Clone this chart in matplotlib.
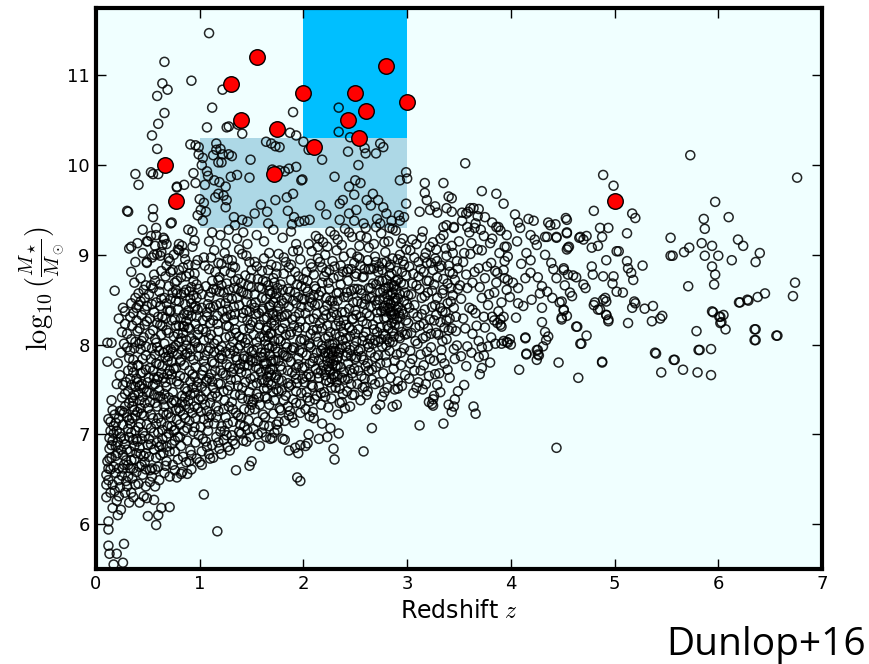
import numpy as np
import matplotlib
matplotlib.use("Agg")
import matplotlib.pyplot as plt
from matplotlib.patches import Rectangle

# photometric field sample (redshift, log stellar mass), grouped by redshift
field_z0 = [
    (0.11,8.02),(0.11,7.81),(0.20,7.56),(0.12,7.17),(0.14,7.14),(0.11,6.70),(0.10,6.55),(0.10,6.44),
    (0.10,6.30),(0.12,6.03),(0.12,5.94),(0.12,5.76),(0.13,5.67),(0.20,5.67),(0.27,5.78),(0.17,5.55),
    (0.26,5.57),(0.21,6.10),(0.32,6.24),(0.36,6.30),(0.34,6.35),(0.18,8.60),(0.15,8.02),
    (0.14,7.04),(0.16,6.93),(0.19,6.87),(0.13,6.84),(0.21,6.91),(0.23,7.01),(0.24,6.83),(0.26,6.77),
    (0.15,6.74),(0.17,6.64),(0.19,6.57),(0.14,6.61),(0.22,6.49),(0.16,6.44),(0.18,6.37),(0.23,6.41),
    (0.25,6.54),(0.27,6.66),(0.29,6.71),(0.12,6.49),(0.20,6.26),(0.22,6.62),(0.28,6.89),(0.31,7.06),
    (0.26,7.11),(0.18,7.22),(0.23,7.26),(0.28,7.31),(0.30,7.19),(0.25,7.41),(0.15,7.38),(0.17,7.09),
    (0.19,6.76),(0.13,6.96),(0.27,6.95),(0.31,6.53),(0.22,6.31),(0.24,6.16),(0.30,6.42),(0.33,6.62),
    (0.35,6.51),(0.37,6.72),(0.39,6.58),(0.41,6.45),(0.44,6.66),(0.46,6.31),(0.49,6.29),(0.45,6.55),
    (0.48,6.79),(0.42,6.85),(0.36,6.94),(0.33,6.81),(0.38,7.04),(0.43,7.12),(0.47,6.98),(0.40,7.25),
    (0.35,7.18),(0.32,7.35),(0.37,7.44),(0.42,7.38),(0.46,7.21),(0.49,7.47),(0.44,7.56),(0.39,7.62),
    (0.34,7.55),(0.31,7.71),(0.36,7.83),(0.41,7.77),(0.45,7.69),(0.48,7.88),(0.43,7.95),(0.38,8.03),
    (0.33,7.93),(0.30,8.12),(0.35,8.21),(0.40,8.15),(0.46,8.08),(0.49,8.26),(0.44,8.33),(0.39,8.41),
    (0.34,8.46),(0.28,8.37),(0.25,8.14),(0.22,8.29),(0.24,7.91),(0.29,7.58),(0.27,8.01),(0.21,7.79),
    (0.23,7.66),(0.32,9.07),(0.34,8.81),(0.37,8.69),(0.41,8.57),(0.47,8.52),(0.43,8.74),(0.49,8.91),
    (0.38,8.92),(0.45,9.02),(0.40,9.13),(0.34,9.09),(0.49,9.15),(0.30,9.49),(0.45,9.28),(0.41,9.78),
    (0.38,9.90),(0.47,8.39),(0.42,8.01),(0.31,9.48),(0.28,8.23),(0.26,8.41),
    (0.12,6.62),(0.15,6.88),(0.17,7.01),(0.19,7.13),(0.21,6.79),(0.22,7.18),(0.24,6.97),(0.26,6.62),
    (0.27,7.24),(0.29,6.48),(0.30,6.83),(0.32,6.97),(0.33,7.12),(0.34,6.71),(0.35,7.31),(0.36,6.62),
    (0.37,6.87),(0.38,7.21),(0.39,6.79),(0.40,6.92),(0.41,7.08),(0.42,6.64),(0.43,7.29),(0.44,6.95),
    (0.45,7.02),(0.46,6.76),(0.47,7.35),(0.48,6.61),(0.49,7.11),(0.50,6.88),(0.31,7.48),(0.33,7.62),
    (0.35,7.41),(0.36,7.69),(0.38,7.53),(0.40,7.77),(0.41,7.46),(0.43,7.68),(0.45,7.84),(0.46,7.51),
    (0.48,7.72),(0.50,7.58),(0.32,7.85),(0.34,8.06),(0.37,7.96),(0.39,8.27),(0.42,8.18),(0.44,8.04),
    (0.47,8.22),(0.49,8.43),(0.36,8.35),(0.41,8.44),(0.46,8.61),(0.30,7.97),(0.28,7.45),(0.26,7.55),
    (0.25,7.26),(0.20,7.04),(0.16,7.27),(0.13,6.73),(0.14,6.35),(0.16,6.18),(0.28,6.35),(0.38,6.44),
    (0.42,6.24),
]

field_z05 = [
    (0.66,11.15),(0.64,10.91),(0.69,10.84),(0.59,10.77),(0.66,10.58),(0.60,10.46),(0.54,10.33),
    (0.92,10.94),(0.91,10.23),(0.59,10.18),(0.53,9.92),(0.55,9.90),(0.60,9.90),(0.78,9.75),(0.85,9.78),
    (0.94,9.91),(0.96,9.80),(0.55,9.51),(0.55,9.42),(0.58,9.30),(0.73,9.36),(0.50,9.15),(0.80,9.12),
    (0.80,9.05),(0.89,9.28),(0.49,8.92),(0.56,9.00),(0.59,9.01),(0.65,9.19),(0.66,9.17),(0.96,10.22),
    (0.99,10.20),(0.78,9.76),(0.72,9.35),(0.53,9.21),(0.58,9.22),(0.57,9.10),(0.64,9.11),(0.68,9.12),
    (0.83,9.10),(0.85,9.02),(0.93,9.26),(0.95,9.16),(0.62,8.99),(0.75,9.00),(0.70,8.96),
    (0.52,6.47),(0.57,6.61),(0.61,6.49),(0.66,6.57),(0.71,6.53),(0.74,6.66),(0.78,6.52),(0.83,6.58),
    (0.87,6.69),(0.92,6.61),(0.97,6.73),(1.02,6.66),(0.63,6.18),(0.58,5.99),(0.71,6.19),(0.88,6.56),
    (0.51,6.75),(0.56,6.83),(0.59,6.91),(0.62,6.77),(0.64,6.95),(0.68,6.86),(0.70,7.01),(0.73,6.89),
    (0.76,6.81),(0.79,6.97),(0.82,6.87),(0.85,7.04),(0.88,6.93),(0.91,6.82),(0.94,7.03),(0.96,6.91),
    (0.99,6.99),(0.53,7.07),(0.55,7.18),(0.60,7.02),(0.63,7.13),(0.65,7.24),(0.69,7.09),(0.72,7.19),
    (0.75,7.04),(0.77,7.27),(0.81,7.11),(0.84,7.22),(0.86,7.33),(0.90,7.15),(0.93,7.24),(0.95,7.08),
    (0.98,7.29),(0.52,7.36),(0.56,7.44),(0.59,7.31),(0.61,7.49),(0.65,7.39),(0.68,7.53),(0.70,7.41),
    (0.74,7.47),(0.77,7.36),(0.80,7.56),(0.83,7.43),(0.86,7.51),(0.89,7.37),(0.91,7.59),(0.95,7.46),
    (0.97,7.53),(0.51,7.63),(0.55,7.71),(0.58,7.79),(0.60,7.64),(0.64,7.76),(0.67,7.86),(0.69,7.67),
    (0.73,7.81),(0.75,7.73),(0.79,7.89),(0.81,7.65),(0.85,7.77),(0.88,7.91),(0.90,7.71),(0.94,7.83),
    (0.96,7.75),(0.99,7.87),(0.54,7.96),(0.57,8.06),(0.59,7.97),(0.63,8.11),(0.66,8.01),(0.68,8.16),
    (0.72,7.95),(0.75,8.09),(0.77,8.21),(0.80,8.03),(0.84,8.13),(0.87,7.99),(0.89,8.19),(0.92,8.07),
    (0.96,8.23),(0.98,8.11),(0.52,8.29),(0.56,8.36),(0.59,8.24),(0.62,8.43),(0.64,8.31),(0.68,8.46),
    (0.71,8.37),(0.73,8.27),(0.77,8.49),(0.79,8.39),(0.82,8.29),(0.86,8.45),(0.88,8.33),(0.91,8.51),
    (0.95,8.41),(0.97,8.31),(0.51,8.56),(0.55,8.63),(0.57,8.71),(0.61,8.59),(0.63,8.51),(0.67,8.76),
    (0.70,8.65),(0.72,8.81),(0.76,8.69),(0.78,8.57),(0.82,8.75),(0.84,8.86),(0.87,8.61),(0.90,8.79),
    (0.94,8.71),(0.96,8.89),(0.99,8.62),(0.54,8.97),(0.63,9.03),(0.71,8.93),(0.79,9.06),(0.86,8.95),
    (0.93,9.09),(0.98,8.94),(0.54,6.53),(0.60,6.64),(0.68,6.70),(0.76,6.60),(0.84,6.75),(0.92,6.77),
    (0.82,6.56),(0.90,6.70),(0.48,6.42),(0.56,6.27),(0.60,6.10),(0.50,6.09),
    (0.51,6.95),(0.53,7.22),(0.54,6.62),(0.55,7.55),(0.56,7.02),(0.57,7.35),(0.58,6.74),(0.59,7.61),
    (0.60,7.18),(0.61,6.86),(0.62,7.42),(0.63,7.68),(0.64,7.05),(0.65,6.79),(0.66,7.31),(0.67,7.58),
    (0.68,6.97),(0.69,7.82),(0.70,7.24),(0.71,6.81),(0.72,7.61),(0.73,7.09),(0.74,7.92),(0.75,7.38),
    (0.76,6.93),(0.77,7.74),(0.78,7.16),(0.79,8.12),(0.80,7.29),(0.81,6.97),(0.82,7.83),(0.83,7.36),
    (0.84,8.21),(0.85,7.63),(0.86,7.18),(0.87,8.05),(0.88,7.48),(0.89,8.38),(0.90,7.29),(0.91,7.95),
    (0.92,8.32),(0.93,7.67),(0.94,8.55),(0.95,7.31),(0.96,8.02),(0.97,8.67),(0.98,7.58),(0.99,8.17),
    (0.52,8.12),(0.54,8.45),(0.56,8.78),(0.58,8.02),(0.60,8.31),(0.62,8.67),(0.64,8.21),(0.66,8.52),
    (0.68,8.88),(0.70,8.13),(0.72,8.51),(0.74,8.83),(0.76,8.28),(0.78,8.71),(0.80,8.48),(0.82,8.07),
    (0.85,8.58),(0.87,8.26),(0.89,8.89),(0.92,8.64),(0.95,8.79),(0.98,8.39),(0.53,7.84),(0.57,7.56),
    (0.61,7.93),(0.65,7.63),(0.69,7.94),(0.73,7.67),(0.77,7.99),(0.81,7.81),(0.86,7.89),(0.91,7.44),
    (0.95,7.64),(0.99,7.39),(0.67,6.65),(0.79,6.72),(0.57,6.42),(0.52,6.60),
]

field_z1 = [
    (1.04,6.33),(1.17,5.92),(1.35,6.60),(1.10,6.73),(1.13,6.74),(1.00,6.69),(1.21,6.78),(1.29,6.82),
    (1.02,6.81),(1.06,6.92),(1.09,6.78),(1.12,6.88),(1.16,6.97),(1.19,6.84),(1.23,6.94),(1.27,6.86),
    (1.31,6.99),(1.34,6.89),(1.38,7.03),(1.42,6.93),(1.46,7.05),(1.49,6.97),(1.01,7.08),(1.04,7.17),
    (1.08,7.04),(1.11,7.22),(1.14,7.12),(1.18,7.26),(1.21,7.09),(1.25,7.19),(1.28,7.31),(1.32,7.14),
    (1.35,7.24),(1.39,7.11),(1.43,7.28),(1.47,7.16),(1.50,7.33),(1.03,7.39),(1.06,7.48),(1.10,7.35),
    (1.13,7.52),(1.17,7.42),(1.20,7.56),(1.24,7.38),(1.27,7.49),(1.30,7.61),(1.34,7.44),(1.37,7.54),
    (1.41,7.40),(1.44,7.58),(1.48,7.47),(1.02,7.66),(1.05,7.75),(1.09,7.63),(1.12,7.81),(1.15,7.71),
    (1.19,7.85),(1.22,7.68),(1.26,7.78),(1.29,7.90),(1.33,7.73),(1.36,7.83),(1.40,7.69),(1.43,7.87),
    (1.47,7.77),(1.50,7.92),(1.01,7.96),(1.04,8.05),(1.08,7.93),(1.11,8.11),(1.14,8.01),(1.18,8.15),
    (1.21,7.98),(1.25,8.08),(1.28,8.20),(1.32,8.03),(1.35,8.13),(1.39,7.99),(1.42,8.17),(1.46,8.06),
    (1.49,8.22),(1.03,8.27),(1.07,8.36),(1.10,8.24),(1.13,8.42),(1.17,8.32),(1.20,8.46),(1.24,8.29),
    (1.27,8.39),(1.31,8.51),(1.34,8.34),(1.38,8.44),(1.41,8.30),(1.45,8.48),(1.48,8.37),(1.02,8.56),
    (1.06,8.65),(1.09,8.53),(1.12,8.71),(1.16,8.61),(1.19,8.75),(1.23,8.58),(1.26,8.68),(1.30,8.80),
    (1.33,8.63),(1.37,8.73),(1.40,8.59),(1.44,8.77),(1.47,8.66),(1.50,8.83),(1.05,8.88),(1.11,8.97),
    (1.18,8.91),(1.24,9.02),(1.31,8.94),(1.38,9.06),(1.45,8.99),
    (1.01,7.25),(1.02,7.53),(1.03,6.95),(1.04,7.82),(1.05,7.33),(1.06,8.14),(1.07,7.61),(1.08,8.45),
    (1.09,7.19),(1.10,7.96),(1.11,8.58),(1.12,7.42),(1.13,8.27),(1.14,7.79),(1.15,8.81),(1.16,7.31),
    (1.17,8.05),(1.18,7.57),(1.19,8.59),(1.20,7.03),(1.21,7.88),(1.22,8.37),(1.23,7.48),(1.24,8.82),
    (1.25,7.66),(1.26,8.21),(1.27,7.12),(1.28,8.61),(1.29,7.75),(1.30,8.33),(1.31,7.36),(1.32,8.87),
    (1.33,7.93),(1.34,8.17),(1.35,7.61),(1.36,8.52),(1.37,7.21),(1.38,8.09),(1.39,7.78),(1.40,8.69),
    (1.41,7.52),(1.42,8.35),(1.43,7.09),(1.44,8.02),(1.45,7.68),(1.46,8.56),(1.47,7.39),(1.48,8.18),
    (1.49,7.83),(1.50,8.64),(1.04,8.97),(1.09,8.84),(1.14,9.05),(1.21,8.90),(1.27,8.95),(1.34,8.86),
    (1.41,9.01),(1.48,8.92),(1.03,7.71),(1.07,8.31),(1.12,7.59),(1.16,8.44),(1.20,7.71),(1.25,8.46),
    (1.29,7.54),(1.33,8.42),(1.37,7.96),(1.42,7.84),(1.46,8.27),(1.49,7.62),(1.18,6.91),(1.26,6.99),
    (1.32,6.93),(1.40,7.01),(1.45,6.92),(1.07,6.86),
    (0.99,10.12),(1.03,10.08),(1.02,10.00),(1.07,9.93),(1.08,9.88),(1.05,9.78),(1.13,10.11),(1.16,10.17),
    (1.20,10.18),(1.22,10.12),(1.18,10.03),(1.21,10.03),(1.28,10.12),(1.31,10.10),(1.49,10.06),(1.30,9.87),
    (1.36,9.89),(1.48,9.86),(1.14,9.83),(1.19,9.81),(1.25,9.76),(1.15,9.64),(1.18,9.68),(1.23,9.66),
    (1.26,9.61),(1.25,9.53),(1.00,9.62),(1.04,9.58),(1.01,9.50),(0.98,9.44),(1.06,9.48),(1.03,9.38),
    (1.33,9.42),(1.34,9.33),(1.41,9.39),(1.46,9.37),(1.53,9.46),(1.12,9.25),(1.20,9.22),(1.28,9.28),
    (1.36,9.18),(1.42,9.25),(1.09,9.15),(1.25,9.12),(1.46,9.12),(1.16,10.24),(1.41,10.35),(1.37,10.45),
    (1.28,10.43),(1.07,10.42),(1.26,10.42),(1.12,10.64),(1.22,10.84),(1.09,11.47),(1.90,10.59),
]

field_z15 = [
    (1.58,6.87),(1.68,6.95),(1.70,6.96),(1.80,6.95),(1.82,6.94),(1.94,6.52),(1.97,6.48),(1.86,6.82),
    (1.92,6.85),(1.95,6.79),(1.97,6.88),(1.48,6.65),(1.50,6.70),(1.56,7.00),(1.75,7.05),(1.62,7.10),
    (1.52,7.06),(1.56,7.14),(1.60,7.02),(1.63,7.19),(1.67,7.09),(1.71,7.23),(1.74,7.11),(1.78,7.27),
    (1.82,7.15),(1.85,7.31),(1.89,7.19),(1.93,7.35),(1.97,7.24),(1.51,7.36),(1.55,7.45),(1.58,7.33),
    (1.62,7.51),(1.65,7.40),(1.69,7.55),(1.72,7.38),(1.76,7.48),(1.79,7.60),(1.83,7.43),(1.86,7.53),
    (1.90,7.39),(1.94,7.57),(1.98,7.46),(1.53,7.64),(1.57,7.73),(1.60,7.61),(1.64,7.79),(1.67,7.69),
    (1.71,7.83),(1.74,7.66),(1.78,7.76),(1.81,7.88),(1.85,7.71),(1.88,7.81),(1.92,7.67),(1.95,7.85),
    (1.99,7.74),(1.52,7.94),(1.55,8.03),(1.59,7.91),(1.62,8.09),(1.66,7.99),(1.69,8.13),(1.73,7.96),
    (1.76,8.06),(1.80,8.18),(1.83,8.01),(1.87,8.11),(1.90,7.97),(1.94,8.15),(1.97,8.04),(1.51,8.25),
    (1.54,8.34),(1.58,8.22),(1.61,8.40),(1.65,8.30),(1.68,8.44),(1.72,8.27),(1.75,8.37),(1.79,8.49),
    (1.82,8.32),(1.86,8.42),(1.89,8.28),(1.93,8.46),(1.96,8.35),(1.99,8.51),(1.53,8.56),(1.57,8.64),
    (1.60,8.52),(1.64,8.70),(1.67,8.60),(1.71,8.74),(1.74,8.57),(1.78,8.67),(1.81,8.79),(1.85,8.62),
    (1.88,8.72),(1.92,8.58),(1.95,8.76),(1.98,8.65),(1.55,8.87),(1.62,8.96),(1.69,8.89),(1.76,9.01),
    (1.83,8.92),(1.90,9.04),(1.97,8.95),(1.63,7.42),(1.66,7.58),(1.70,7.72),(1.68,7.88),(1.72,8.04),
    (1.65,8.19),(1.70,8.35),(1.73,8.52),(1.61,7.86),(1.74,7.50),
    (1.51,7.55),(1.52,8.11),(1.53,7.28),(1.54,8.47),(1.55,7.82),(1.56,8.73),(1.57,7.41),(1.58,8.08),
    (1.59,7.69),(1.60,8.63),(1.61,7.22),(1.62,8.28),(1.63,7.91),(1.64,8.51),(1.65,7.64),(1.66,8.83),
    (1.67,7.33),(1.68,8.12),(1.69,7.81),(1.70,8.58),(1.71,7.47),(1.72,8.21),(1.73,7.63),(1.74,8.79),
    (1.75,7.92),(1.76,8.43),(1.77,7.29),(1.78,8.04),(1.79,7.72),(1.80,8.61),(1.81,7.38),(1.82,8.24),
    (1.83,7.87),(1.84,8.52),(1.85,7.57),(1.86,8.86),(1.87,7.26),(1.88,8.14),(1.89,7.69),(1.90,8.49),
    (1.91,7.96),(1.92,8.31),(1.93,7.48),(1.94,8.67),(1.95,7.78),(1.96,8.19),(1.97,7.34),(1.98,8.42),
    (1.99,7.91),(2.00,8.73),(1.53,8.92),(1.60,8.82),(1.67,9.02),(1.74,8.87),(1.81,8.97),(1.88,8.89),
    (1.95,9.05),(1.64,7.72),(1.67,7.96),(1.69,8.24),(1.71,8.47),(1.66,8.66),(1.62,7.58),(1.76,7.82),
    (1.79,8.31),(1.84,7.97),(1.93,7.62),(1.98,8.06),(1.57,8.35),(1.54,7.75),(1.86,7.21),(1.91,7.13),
    (1.76,7.14),(1.64,6.97),(1.72,7.02),
    (1.55,9.22),(1.62,9.15),(1.66,9.35),(1.71,9.28),(1.80,9.19),(1.88,9.26),(1.93,9.12),(1.73,9.61),
    (1.84,9.64),(1.90,9.68),(1.85,9.49),(1.91,9.42),(1.89,9.34),(1.96,9.37),(1.65,9.48),(1.59,9.56),
    (1.70,9.95),(1.71,9.89),(1.77,9.94),(1.82,9.93),(1.86,9.96),(1.93,9.98),(1.64,10.26),(1.73,10.21),
    (1.87,10.36),(1.93,10.33),(2.00,10.26),(1.69,10.24),(1.77,10.20),(1.98,9.83),(2.01,9.38),
]

field_z2 = [
    (2.02,6.87),(2.04,6.90),(2.05,7.00),(2.06,7.20),(2.15,6.95),(2.23,6.97),(2.26,7.07),(2.34,7.01),
    (2.29,6.84),(2.30,6.72),(2.33,7.22),(2.40,7.29),(2.45,7.31),(2.18,7.12),(2.10,7.18),
    (2.02,7.28),(2.06,7.37),(2.09,7.25),(2.13,7.43),(2.17,7.33),(2.20,7.47),(2.24,7.30),(2.27,7.40),
    (2.31,7.52),(2.35,7.35),(2.38,7.45),(2.42,7.48),(2.46,7.56),(2.49,7.44),(2.01,7.58),(2.05,7.67),
    (2.08,7.55),(2.12,7.73),(2.15,7.63),(2.19,7.77),(2.22,7.60),(2.26,7.70),(2.29,7.82),(2.33,7.65),
    (2.36,7.75),(2.40,7.61),(2.43,7.79),(2.47,7.68),(2.50,7.84),(2.03,7.88),(2.07,7.97),(2.10,7.85),
    (2.14,8.03),(2.17,7.93),(2.21,8.07),(2.24,7.90),(2.28,8.00),(2.31,8.12),(2.35,7.95),(2.38,8.05),
    (2.42,7.91),(2.45,8.09),(2.49,7.98),(2.02,8.19),(2.06,8.28),(2.09,8.16),(2.13,8.34),(2.16,8.24),
    (2.20,8.38),(2.23,8.21),(2.27,8.31),(2.30,8.43),(2.34,8.26),(2.37,8.36),(2.41,8.22),(2.44,8.40),
    (2.48,8.29),(2.01,8.50),(2.04,8.59),(2.08,8.47),(2.11,8.65),(2.15,8.55),(2.18,8.69),(2.22,8.52),
    (2.25,8.62),(2.29,8.74),(2.32,8.57),(2.36,8.67),(2.39,8.53),(2.43,8.71),(2.46,8.60),(2.50,8.76),
    (2.03,8.81),(2.07,8.90),(2.10,8.78),(2.14,8.96),(2.18,8.86),(2.21,9.00),(2.25,8.83),(2.28,8.93),
    (2.32,9.05),(2.36,8.88),(2.39,8.98),(2.43,8.84),(2.46,9.02),(2.49,8.91),(2.05,9.12),(2.12,9.21),
    (2.19,9.14),(2.26,9.26),(2.33,9.17),(2.40,9.29),(2.47,9.20),(2.22,7.72),(2.26,7.85),(2.30,7.64),
    (2.34,7.91),(2.28,7.78),(2.32,7.58),
    (2.01,7.75),(2.02,8.35),(2.03,7.47),(2.04,8.71),(2.05,7.99),(2.06,8.52),(2.07,7.64),(2.08,8.86),
    (2.09,7.81),(2.10,8.29),(2.11,7.39),(2.12,8.62),(2.13,7.91),(2.14,8.45),(2.15,7.53),(2.16,8.92),
    (2.17,7.71),(2.18,8.18),(2.19,7.95),(2.20,8.76),(2.21,7.42),(2.22,8.33),(2.23,7.82),(2.24,8.69),
    (2.25,7.58),(2.26,8.14),(2.27,7.93),(2.28,8.48),(2.29,7.67),(2.30,8.87),(2.31,7.76),(2.32,8.33),
    (2.33,7.86),(2.34,8.58),(2.35,7.51),(2.36,8.21),(2.37,7.97),(2.38,8.81),(2.39,7.69),(2.40,8.36),
    (2.41,7.87),(2.42,8.58),(2.43,7.62),(2.44,8.19),(2.45,7.94),(2.46,8.84),(2.47,7.44),(2.48,8.47),
    (2.49,7.73),(2.50,8.12),(2.08,9.04),(2.15,9.18),(2.23,9.09),(2.30,9.22),(2.37,9.11),(2.44,9.25),
    (2.04,7.41),(2.17,7.46),(2.27,7.52),(2.37,7.36),(2.21,7.91),(2.25,7.72),(2.29,7.96),(2.33,7.77),
    (2.31,8.21),(2.24,8.09),(2.12,8.09),(2.41,8.07),(2.47,8.28),(2.06,8.01),
    (2.06,9.39),(1.99,9.84),(2.14,9.09),(2.16,9.55),(2.22,9.45),(2.35,9.57),(2.38,9.61),(2.35,9.39),
    (2.44,9.46),(2.49,9.38),(2.30,9.87),(2.44,9.76),(2.49,9.67),(2.34,10.64),(2.34,10.37),(2.45,10.31),
    (2.43,10.15),(2.18,10.06),(2.50,9.83),(2.05,10.17),
]

field_z25 = [
    (2.58,6.81),(2.66,7.07),(2.70,7.28),(2.74,7.33),(2.76,7.42),(2.78,7.47),(2.86,7.31),(2.90,7.33),
    (2.88,7.50),(2.91,7.51),(2.62,7.48),(2.55,7.38),
    (2.52,7.56),(2.56,7.65),(2.59,7.53),(2.63,7.71),(2.66,7.61),(2.70,7.75),(2.73,7.58),(2.77,7.68),
    (2.80,7.80),(2.84,7.63),(2.87,7.73),(2.91,7.59),(2.94,7.77),(2.98,7.66),(2.51,7.86),(2.55,7.95),
    (2.58,7.83),(2.62,8.01),(2.65,7.91),(2.69,8.05),(2.72,7.88),(2.76,7.98),(2.79,8.10),(2.83,7.93),
    (2.86,8.03),(2.90,7.89),(2.93,8.07),(2.97,7.96),(3.00,8.12),(2.53,8.17),(2.57,8.26),(2.60,8.14),
    (2.64,8.32),(2.67,8.22),(2.71,8.36),(2.74,8.19),(2.78,8.29),(2.81,8.41),(2.85,8.24),(2.88,8.34),
    (2.92,8.20),(2.95,8.38),(2.99,8.27),(2.52,8.48),(2.56,8.57),(2.59,8.45),(2.63,8.63),(2.66,8.53),
    (2.70,8.67),(2.73,8.50),(2.77,8.60),(2.80,8.72),(2.84,8.55),(2.87,8.65),(2.91,8.51),(2.94,8.69),
    (2.98,8.58),(2.51,8.79),(2.55,8.88),(2.58,8.76),(2.62,8.94),(2.65,8.84),(2.69,8.98),(2.72,8.81),
    (2.76,8.91),(2.79,9.03),(2.83,8.86),(2.86,8.96),(2.90,8.82),(2.93,9.00),(2.97,8.89),(2.54,9.10),
    (2.61,9.19),(2.68,9.12),(2.75,9.24),(2.82,9.15),(2.89,9.27),(2.96,9.18),(2.58,9.35),(2.71,9.40),
    (2.85,9.38),(2.92,9.44),(2.80,8.30),(2.84,8.45),(2.88,8.52),(2.82,8.18),(2.90,8.39),(2.86,8.58),
    (2.51,8.04),(2.52,8.62),(2.53,7.71),(2.54,8.96),(2.55,8.31),(2.56,7.87),(2.57,8.75),(2.58,8.09),
    (2.59,7.62),(2.60,8.51),(2.61,8.23),(2.62,7.79),(2.63,8.84),(2.64,8.06),(2.65,8.42),(2.66,7.72),
    (2.67,8.68),(2.68,8.17),(2.69,7.86),(2.70,8.92),(2.71,8.44),(2.72,8.03),(2.73,8.71),(2.74,7.79),
    (2.75,8.37),(2.76,8.83),(2.77,8.12),(2.78,8.53),(2.79,7.88),(2.80,8.92),(2.81,8.21),(2.82,8.64),
    (2.83,8.03),(2.84,8.37),(2.85,8.79),(2.86,8.15),(2.87,8.47),(2.88,7.82),(2.89,8.71),(2.90,8.28),
    (2.91,8.95),(2.92,8.09),(2.93,8.56),(2.94,7.91),(2.95,8.81),(2.96,8.34),(2.97,8.67),(2.98,8.11),
    (2.99,9.06),(3.00,8.45),(2.55,9.21),(2.63,9.08),(2.70,9.31),(2.78,9.14),(2.86,9.29),(2.94,9.13),
    (2.83,8.41),(2.87,8.29),(2.81,8.56),(2.89,8.61),(2.91,8.42),(2.79,8.37),(2.74,8.58),(2.85,8.67),
    (2.61,7.44),(2.69,7.56),(2.81,7.52),(2.95,7.54),(2.57,7.52),
    (2.53,10.00),(2.55,9.80),(2.59,10.19),(2.60,10.13),(2.70,10.13),(2.74,10.24),(2.77,10.20),
    (2.51,9.50),(2.61,9.61),(2.67,9.68),(2.72,9.61),(2.77,9.53),(2.80,9.46),(2.74,9.35),(2.83,9.30),
    (2.93,9.83),(2.99,9.92),(3.00,9.85),(2.99,9.57),(2.97,9.42),(2.93,9.38),(2.60,9.30),(2.65,9.55),
]

field_z3 = [
    (3.06,7.46),(3.12,7.10),(3.21,7.36),(3.25,7.39),(3.26,7.43),(3.24,7.34),(3.25,7.32),(3.32,7.47),
    (3.35,7.12),(3.40,7.33),(3.45,7.31),(3.43,7.25),(3.46,7.39),(3.49,7.48),(3.64,7.31),(3.66,7.23),
    (3.70,7.67),(3.72,7.74),(3.80,7.80),(3.78,7.98),(3.72,7.97),(3.69,7.86),(3.90,8.22),(3.93,8.04),
    (3.97,8.02),(3.99,8.06),(3.88,8.37),(3.55,7.55),(3.15,7.50),
    (3.02,7.62),(3.07,7.71),(3.11,7.58),(3.16,7.77),(3.21,7.65),(3.26,7.82),(3.31,7.68),(3.36,7.79),
    (3.41,7.63),(3.46,7.84),(3.03,7.93),(3.08,8.04),(3.13,7.89),(3.18,8.09),(3.23,7.97),(3.28,8.13),
    (3.33,7.94),(3.38,8.06),(3.43,8.18),(3.48,7.99),(3.01,8.24),(3.06,8.35),(3.12,8.21),(3.17,8.39),
    (3.22,8.28),(3.27,8.44),(3.32,8.25),(3.37,8.36),(3.42,8.48),(3.47,8.31),(3.04,8.56),(3.09,8.66),
    (3.14,8.52),(3.19,8.71),(3.24,8.60),(3.29,8.75),(3.34,8.57),(3.39,8.68),(3.44,8.79),(3.49,8.62),
    (3.02,8.87),(3.07,8.97),(3.13,8.84),(3.18,9.02),(3.23,8.91),(3.28,9.06),(3.33,8.88),(3.38,8.99),
    (3.43,9.10),(3.48,8.93),(3.05,9.17),(3.15,9.26),(3.25,9.14),(3.35,9.22),(3.45,9.30),
    (3.01,8.55),(3.03,9.05),(3.04,8.13),(3.06,8.79),(3.07,8.44),(3.09,9.12),(3.10,8.31),(3.11,8.92),
    (3.12,8.62),(3.14,9.19),(3.15,8.07),(3.16,8.81),(3.17,8.54),(3.19,8.91),(3.20,8.18),(3.21,8.71),
    (3.22,9.09),(3.24,8.42),(3.25,8.83),(3.26,8.27),(3.27,8.96),(3.29,8.52),(3.30,8.11),(3.31,8.86),
    (3.32,9.18),(3.34,8.37),(3.35,8.73),(3.36,8.19),(3.37,9.07),(3.39,8.46),(3.40,8.88),(3.41,8.29),
    (3.42,8.63),(3.44,9.02),(3.45,8.41),(3.46,8.72),(3.47,8.15),(3.49,8.85),(3.05,7.84),(3.13,7.71),
    (3.19,7.92),(3.27,7.67),(3.33,7.85),(3.39,7.72),(3.45,7.95),(3.09,7.52),(3.18,7.56),(3.29,7.55),
    (3.52,7.87),(3.58,7.98),(3.63,8.12),(3.69,8.04),(3.75,8.19),(3.81,8.08),(3.87,8.24),(3.54,8.29),
    (3.60,8.41),(3.66,8.35),(3.72,8.52),(3.78,8.44),(3.84,8.58),(3.51,8.66),(3.57,8.78),(3.63,8.69),
    (3.69,8.85),(3.75,8.74),(3.81,8.91),(3.87,8.80),(3.55,9.02),(3.62,9.13),(3.68,9.06),(3.74,9.21),
    (3.53,9.38),(3.66,9.35),
    (3.52,8.51),(3.54,8.92),(3.56,8.18),(3.58,8.63),(3.61,9.01),(3.63,8.39),(3.65,8.81),(3.67,8.21),
    (3.70,8.64),(3.72,9.05),(3.74,8.31),(3.77,8.87),(3.79,8.56),(3.82,9.18),(3.84,8.27),(3.86,8.69),
    (3.89,9.02),(3.91,8.47),(3.94,8.93),(3.97,8.72),(3.57,7.76),(3.62,7.91),(3.74,7.88),(3.85,8.01),
    (3.60,9.25),(3.71,9.28),(3.82,9.36),(3.50,9.15),
    (3.56,10.02),(3.17,9.80),(3.35,9.80),(3.17,9.69),(3.19,9.61),(3.22,9.50),(3.27,9.54),(3.29,9.47),
    (3.40,9.65),(3.43,9.63),(3.38,9.52),(3.43,9.48),(3.53,9.47),(3.59,9.48),(3.64,9.52),(3.69,9.51),
    (3.72,9.71),(3.86,9.68),(3.93,9.57),(3.75,9.42),(3.35,9.31),(3.38,9.33),(3.45,9.31),(3.58,9.31),
    (3.65,9.30),(3.88,9.31),(3.90,9.27),(3.80,9.13),(3.96,9.09),(3.97,8.98),(3.12,9.48),(3.61,9.52),
    (3.57,9.46),(3.68,9.43),(3.86,9.31),(3.96,9.22),(3.94,9.09),(3.85,8.82),(3.93,8.83),(3.94,8.74),
    (3.96,8.61),(3.99,8.53),(3.93,8.31),(3.91,8.20),(3.82,8.31),(3.90,8.28),(3.91,8.01),(3.96,8.03),
]

# the crowded low-mass locus between z = 0.3 and 3.4
field_core = [
    (0.31,6.66),(0.34,7.02),(0.36,7.37),(0.39,6.95),(0.42,7.54),(0.44,7.23),(0.47,6.69),(0.51,7.47),
    (0.53,6.89),(0.56,7.63),(0.58,7.12),(0.61,7.78),(0.63,6.88),(0.66,7.45),(0.68,7.22),(0.71,7.71),
    (0.73,7.35),(0.76,7.05),(0.78,7.59),(0.81,7.26),(0.83,7.94),(0.86,7.41),(0.88,7.07),(0.91,7.87),
    (0.93,7.52),(0.96,7.18),(0.98,7.97),(0.32,7.16),(0.35,7.75),(0.37,7.27),(0.40,7.58),(0.43,6.78),
    (0.45,7.42),(0.48,7.98),(0.50,7.29),(0.52,7.74),(0.55,8.16),(0.57,7.89),(0.60,7.42),(0.62,8.22),
    (0.65,7.91),(0.67,8.29),(0.70,7.87),(0.72,8.38),(0.75,7.97),(0.77,8.61),(0.80,8.21),(0.82,8.56),
    (0.85,8.34),(0.87,8.76),(0.90,8.18),(0.92,8.46),(0.95,8.04),(0.97,8.52),(0.33,8.31),(0.38,8.52),
    (0.43,8.48),(0.48,8.66),(0.53,8.66),(0.58,8.47),(0.63,8.82),(0.69,8.38),(0.74,8.58),(0.80,8.83),
    (0.85,8.20),(0.90,8.59),(0.96,8.43),
    (1.01,7.42),(1.03,8.17),(1.05,7.88),(1.07,7.26),(1.09,8.07),(1.11,7.67),(1.13,8.62),(1.15,7.46),
    (1.17,8.23),(1.19,7.94),(1.21,8.66),(1.23,7.28),(1.25,7.92),(1.27,8.52),(1.29,8.09),(1.31,7.69),
    (1.33,8.27),(1.35,7.86),(1.37,8.62),(1.39,7.44),(1.41,8.07),(1.43,7.76),(1.45,8.38),(1.47,7.96),
    (1.49,8.74),(1.02,8.41),(1.06,7.59),(1.10,8.41),(1.14,7.92),(1.18,8.72),(1.22,7.84),(1.26,8.31),
    (1.30,7.97),(1.34,8.71),(1.38,7.73),(1.42,8.58),(1.46,7.85),(1.50,8.45),(1.08,7.12),(1.16,7.19),
    (1.24,7.04),(1.32,7.28),(1.40,7.19),(1.48,7.27),
    (1.51,7.81),(1.53,8.41),(1.55,7.57),(1.57,8.19),(1.59,7.86),(1.61,8.71),(1.63,8.04),(1.65,7.51),
    (1.67,8.42),(1.69,7.66),(1.71,8.33),(1.73,7.82),(1.75,8.63),(1.77,8.16),(1.79,7.49),(1.81,8.46),
    (1.83,8.11),(1.85,7.86),(1.87,8.59),(1.89,7.94),(1.91,8.21),(1.93,7.74),(1.95,8.53),(1.97,8.26),
    (1.99,7.62),(1.52,7.39),(1.56,7.96),(1.60,8.38),(1.64,8.16),(1.68,7.73),(1.72,8.69),(1.76,7.61),
    (1.80,7.91),(1.84,8.34),(1.88,7.55),(1.92,8.81),(1.96,7.93),(1.62,7.79),(1.66,8.09),(1.70,7.98),
    (1.74,8.32),(1.68,8.56),
    (2.01,8.05),(2.03,7.64),(2.05,8.42),(2.07,8.12),(2.09,7.53),(2.11,8.44),(2.13,8.17),(2.15,7.83),
    (2.17,8.59),(2.19,8.29),(2.21,7.66),(2.23,8.44),(2.25,8.01),(2.27,7.62),(2.29,8.36),(2.31,7.93),
    (2.33,8.49),(2.35,8.09),(2.37,7.63),(2.39,8.27),(2.41,7.98),(2.43,8.53),(2.45,7.72),(2.47,8.16),
    (2.49,8.62),(2.02,8.63),(2.06,7.79),(2.10,8.55),(2.14,7.68),(2.18,7.99),(2.22,8.81),(2.26,8.49),
    (2.30,8.01),(2.34,8.76),(2.38,8.14),(2.42,8.81),(2.46,7.87),(2.50,8.38),(2.24,7.76),(2.28,7.88),
    (2.32,7.83),(2.20,7.87),
    (2.51,8.33),(2.53,7.93),(2.55,8.61),(2.57,8.04),(2.59,8.84),(2.61,8.35),(2.63,7.97),(2.65,8.63),
    (2.67,8.01),(2.69,8.49),(2.71,8.14),(2.73,8.87),(2.75,8.06),(2.77,8.41),(2.79,8.63),(2.81,8.06),
    (2.83,8.77),(2.85,8.33),(2.87,8.09),(2.89,8.49),(2.91,8.72),(2.93,8.31),(2.95,8.14),(2.97,8.49),
    (2.99,8.77),(2.52,8.98),(2.56,8.46),(2.60,7.76),(2.64,8.52),(2.68,8.85),(2.72,8.29),(2.76,8.71),
    (2.80,7.99),(2.84,8.89),(2.88,8.66),(2.92,8.35),(2.96,8.93),(2.82,8.49),(2.86,8.37),(2.88,8.22),
    (2.78,8.43),
    (3.02,8.41),(3.05,8.68),(3.08,8.19),(3.11,8.76),(3.14,8.34),(3.17,8.97),(3.20,8.58),(3.23,8.12),
    (3.26,8.67),(3.29,8.93),(3.32,8.41),(3.35,8.61),(3.38,8.27),(3.41,8.81),(3.44,8.55),(3.03,7.79),
    (3.10,8.01),(3.16,8.23),(3.22,7.84),(3.28,8.33),(3.34,8.04),(3.40,8.16),
]

field_z4 = [
    (4.08,7.72),(4.15,7.90),(4.14,8.07),(4.26,7.94),(4.27,7.88),(4.34,8.05),(4.33,8.14),(4.30,8.25),
    (4.44,6.85),(4.46,7.80),(4.49,8.28),(4.51,8.39),(4.64,8.20),(4.65,7.63),(4.68,8.01),(4.73,8.10),
    (4.88,7.80),(4.80,8.44),(4.86,8.39),(4.92,8.33),(4.94,8.26),(5.13,8.24),(5.17,8.41),(5.20,8.46),
    (5.29,8.40),(5.36,8.26),(5.37,8.43),(5.44,8.29),(5.46,8.32),(5.40,7.90),(5.45,7.69),(5.57,7.83),
    (5.66,7.72),(4.00,8.00),(4.14,8.08),(4.15,7.89),(4.25,7.94),(4.26,7.89),(4.31,7.98),(4.25,7.83),
    (4.36,8.09),(4.07,9.36),(4.17,9.40),(4.36,9.36),(4.43,9.34),(4.54,9.39),(4.54,9.24),(4.55,9.08),
    (4.06,9.15),(4.19,9.22),(4.25,9.11),(4.35,9.20),(4.44,9.19),(4.15,9.02),(4.19,8.94),(4.33,9.00),
    (4.39,8.91),(4.41,8.84),(4.44,8.74),(4.51,8.83),(4.55,8.78),(4.52,8.66),(4.02,8.69),(4.14,8.74),
    (4.19,8.80),(4.28,8.57),(4.35,8.59),(4.20,8.50),(4.30,8.41),(4.49,8.48),(4.51,8.38),(4.54,8.32),
    (4.49,8.30),(4.07,8.63),(4.07,8.46),(4.12,8.43),(4.09,9.30),(4.23,9.17),(4.33,9.20),(4.44,9.20),
    (4.38,9.33),(4.05,8.30),(4.10,8.90),(4.26,8.75),(4.30,8.65),(4.40,8.52),(4.22,9.38),(4.04,9.45),
    (4.66,9.19),(4.70,9.17),(4.73,9.21),(4.78,9.08),(4.84,9.10),(4.88,9.20),(4.86,9.30),(4.94,9.30),
    (4.80,9.49),(4.89,9.89),(4.99,9.77),(4.53,9.41),(4.54,9.25),(4.67,9.20),(4.56,9.09),(4.54,9.06),
    (5.17,9.46),(5.20,9.41),(5.12,9.24),(4.92,8.94),(5.02,9.04),(5.04,9.04),(5.12,8.93),(5.13,8.85),
    (5.16,8.80),(5.18,8.72),(5.27,8.88),(4.51,8.85),(4.60,8.77),(4.63,8.75),(4.78,8.87),(4.79,8.78),
    (4.89,8.76),(4.99,8.76),(4.98,8.68),(5.02,8.59),(5.08,8.58),(4.47,8.47),(4.57,8.58),(4.59,8.54),
    (4.70,8.67),(4.72,8.63),(4.81,8.47),(4.89,8.50),(4.91,8.52),(4.92,8.48),(4.84,8.39),(4.92,8.33),
    (4.94,8.28),(5.19,8.48),(4.63,8.20),(4.67,8.01),(4.88,7.81),(5.39,7.91),(5.58,7.83),
]

field_z55 = [
    (5.79,8.15),(5.82,7.94),(5.93,7.95),(5.94,8.37),(6.02,8.31),(6.05,8.33),(6.02,8.24),(6.07,8.17),
    (6.21,8.47),(6.28,8.50),(6.38,8.53),(6.45,8.57),(6.36,8.17),(6.36,8.05),(6.56,8.10),(6.72,8.54),
    (6.74,8.69),(5.71,8.65),(5.54,9.19),(5.54,8.99),(5.56,8.99),(5.67,9.03),(5.97,9.59),(5.86,9.40),
    (5.87,9.29),(6.10,9.42),(5.94,9.10),(5.87,8.99),(6.00,8.99),(6.13,8.94),(5.94,8.87),(5.97,8.78),
    (5.96,8.67),(6.19,9.17),(6.24,9.10),(6.40,9.02),(6.36,8.92),(6.76,9.86),(5.73,10.11),(5.81,7.94),
    (5.93,7.66),(5.80,7.69),(5.95,8.36),(6.01,8.31),(6.03,8.25),(6.20,8.47),(6.29,8.49),(6.35,8.17),
    (6.35,8.05),(6.57,8.10),(5.72,9.08),(5.84,9.13),
]

# spectroscopically confirmed sources
red_z = [0.67, 0.77, 1.30, 1.40, 1.55, 1.75, 1.72, 2.00, 2.10, 2.43, 2.50, 2.54, 2.60, 2.80, 3.00, 5.00]
red_m = [10.00, 9.60, 10.90, 10.50, 11.20, 10.40, 9.90, 10.80, 10.20, 10.50, 10.80, 10.30, 10.60, 11.10, 10.70, 9.60]

field = np.array(field_z0 + field_z05 + field_z1 + field_z15 + field_z2 +
                 field_z25 + field_z3 + field_core + field_z4 + field_z55)

plt.rcParams['mathtext.fontset'] = 'cm'

fig = plt.figure(figsize=(8.7, 6.64), dpi=100)
ax = fig.add_axes([96 / 870, 1 - 569 / 664, 726 / 870, 561 / 664])
ax.set_facecolor('#f0ffff')

# selection boxes
ax.add_patch(Rectangle((1, 9.3), 2, 1.0, facecolor='#add8e6', edgecolor='none', zorder=1))
ax.add_patch(Rectangle((2, 10.3), 1, 2.0, facecolor='#00bfff', edgecolor='none', zorder=1))

ax.scatter(field[:, 0], field[:, 1], s=42, facecolors='none', edgecolors='black',
           linewidths=1.1, alpha=0.85, zorder=2)
ax.scatter(red_z, red_m, s=125, facecolors='red', edgecolors='black',
           linewidths=1.0, zorder=3)

ax.set_xlim(0, 7)
ax.set_ylim(5.5, 11.75)
ax.set_xticks(range(0, 8))
ax.set_yticks(range(6, 12))
ax.tick_params(direction='in', length=7, width=1, top=True, right=True,
               labelsize=13, pad=4.5)
for sp in ax.spines.values():
    sp.set_linewidth(3)

ax.set_xlabel(r'Redshift $z$', fontsize=17, labelpad=4)
ax.set_ylabel(r'$\log_{10}(\frac{M_\star}{M_\odot})$', fontsize=20.5, labelpad=1)

fig.text(866 / 870, 1 - 655 / 664, 'Dunlop+16', ha='right', va='baseline',
         fontsize=28, family=['Open Sans', 'DejaVu Sans'])

fig.savefig('out.png', dpi=100)
